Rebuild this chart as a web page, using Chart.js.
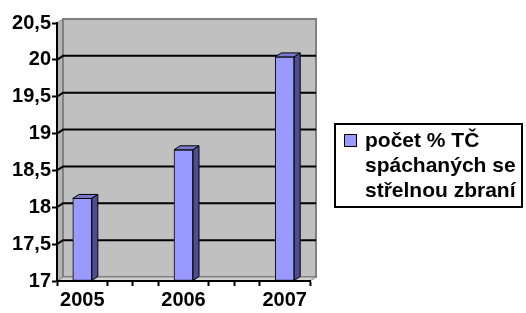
<!DOCTYPE html>
<html>
<head>
<meta charset="utf-8">
<script src="https://cdn.jsdelivr.net/npm/chart.js@4"></script>
<style>
html, body { margin: 0; padding: 0; background: #fff; }
#wrap { width: 526px; height: 313px; }
</style>
</head>
<body>
<div id="wrap"><canvas id="c" width="526" height="313"></canvas></div>
<script>
const years = ['2005', '2006', '2007'];
const values = [18.12, 18.78, 20.04];
const yTicks = ['17', '17,5', '18', '18,5', '19', '19,5', '20', '20,5'];
const legendLines = ['počet % TČ', 'spáchaných se', 'střelnou zbraní'];

const FONT = '"Liberation Sans", Arial, sans-serif';
const DX = 6, DY = -4; // depth of the 3d look

function poly(ctx, pts, fill, stroke, lw) {
  ctx.beginPath();
  ctx.moveTo(pts[0][0], pts[0][1]);
  for (let i = 1; i < pts.length; i++) ctx.lineTo(pts[i][0], pts[i][1]);
  ctx.closePath();
  ctx.fillStyle = fill;
  ctx.fill();
  if (stroke) {
    ctx.strokeStyle = stroke;
    ctx.lineWidth = lw || 1;
    ctx.stroke();
  }
}

// walls, floor and back grid lines
const walls = {
  id: 'walls',
  beforeDraw(chart) {
    const ctx = chart.ctx, a = chart.chartArea, y = chart.scales.y;
    ctx.save();
    poly(ctx, [[a.left, a.bottom], [a.left, a.top], [a.left + DX, a.top + DY], [a.left + DX, a.bottom + DY]], '#b4b4b4', '#808080', 1);
    poly(ctx, [[a.left + DX, a.top + DY], [a.right + DX, a.top + DY], [a.right + DX, a.bottom + DY], [a.left + DX, a.bottom + DY]], '#c0c0c0', '#808080', 2);
    poly(ctx, [[a.left, a.bottom], [a.right, a.bottom], [a.right + DX, a.bottom + DY], [a.left + DX, a.bottom + DY]], '#d0d0d0', '#808080', 1);
    ctx.strokeStyle = '#000';
    ctx.lineWidth = 2;
    y.ticks.forEach(t => {
      if (t.value <= y.min || t.value >= y.max) return;
      const py = y.getPixelForValue(t.value);
      ctx.beginPath();
      ctx.moveTo(a.left, py);
      ctx.lineTo(a.left + DX, py + DY);
      ctx.lineTo(a.right + DX, py + DY);
      ctx.stroke();
    });
    ctx.restore();
  }
};

// top and side faces of the columns
const bars3d = {
  id: 'bars3d',
  afterDatasetsDraw(chart) {
    const ctx = chart.ctx;
    ctx.save();
    chart.getDatasetMeta(0).data.forEach(bar => {
      const p = bar.getProps(['x', 'y', 'base', 'width'], true);
      const x1 = p.x - p.width / 2, x2 = p.x + p.width / 2;
      poly(ctx, [[x1, p.y], [x2, p.y], [x2 + DX, p.y + DY], [x1 + DX, p.y + DY]], '#7a7acc', '#000', 1);
      poly(ctx, [[x2, p.y], [x2 + DX, p.y + DY], [x2 + DX, p.base + DY], [x2, p.base]], '#4e4e8e', '#000', 1);
    });
    ctx.restore();
  }
};

// boxed legend with wrapped text
const boxLegend = {
  id: 'boxLegend',
  afterDraw(chart) {
    const ctx = chart.ctx;
    ctx.save();
    ctx.lineWidth = 2;
    ctx.strokeStyle = '#000';
    ctx.strokeRect(335, 124, 187, 83);
    ctx.fillStyle = '#9999ff';
    ctx.fillRect(344, 134, 12, 12);
    ctx.lineWidth = 1;
    ctx.strokeRect(344.5, 134.5, 12, 12);
    ctx.fillStyle = '#000';
    ctx.font = 'bold 21px ' + FONT;
    ctx.textBaseline = 'middle';
    legendLines.forEach((line, i) => {
      ctx.fillText(line, 365, 141 + i * 25);
    });
    ctx.restore();
  }
};

Chart.defaults.font.family = FONT;
Chart.defaults.color = '#000';

new Chart(document.getElementById('c'), {
  type: 'bar',
  data: {
    datasets: [{
      label: legendLines.join(' '),
      data: years.map((yr, i) => ({ x: i, y: values[i] })),
      base: 17,
      backgroundColor: '#9999ff',
      borderColor: '#000',
      borderWidth: 1,
      borderSkipped: false,
      barThickness: 19
    }]
  },
  options: {
    responsive: false,
    animation: false,
    layout: { padding: { top: 23, right: 216, bottom: 0, left: 0 } },
    plugins: {
      legend: { display: false },
      tooltip: { enabled: false }
    },
    scales: {
      x: {
        type: 'linear',
        min: -0.25,
        max: 2.25,
        offset: false,
        border: { color: '#000', width: 2 },
        grid: {
          offset: false,
          drawOnChartArea: false,
          tickLength: 5,
          tickWidth: 2,
          tickColor: c => (c.tick && Math.abs(c.tick.value - Math.round(c.tick.value)) < 1e-6) ? 'rgba(0,0,0,0)' : '#000'
        },
        ticks: {
          stepSize: 0.25,
          autoSkip: false,
          maxRotation: 0,
          padding: 2,
          font: { size: 20, weight: 'bold' },
          callback: v => {
            const r = Math.round(v);
            return Math.abs(v - r) < 1e-6 ? (years[r] || '') : '';
          }
        },
        afterFit: s => { s.height = 32; }
      },
      y: {
        min: 17,
        max: 20.5,
        border: { color: '#000', width: 2 },
        grid: { drawOnChartArea: false, tickLength: 5, tickWidth: 2, tickColor: '#000' },
        ticks: {
          stepSize: 0.5,
          padding: 1,
          font: { size: 20, weight: 'bold' },
          callback: v => yTicks[Math.round((v - 17) * 2)]
        },
        afterFit: s => { s.width = 57; }
      }
    }
  },
  plugins: [walls, bars3d, boxLegend]
});
</script>
</body>
</html>
